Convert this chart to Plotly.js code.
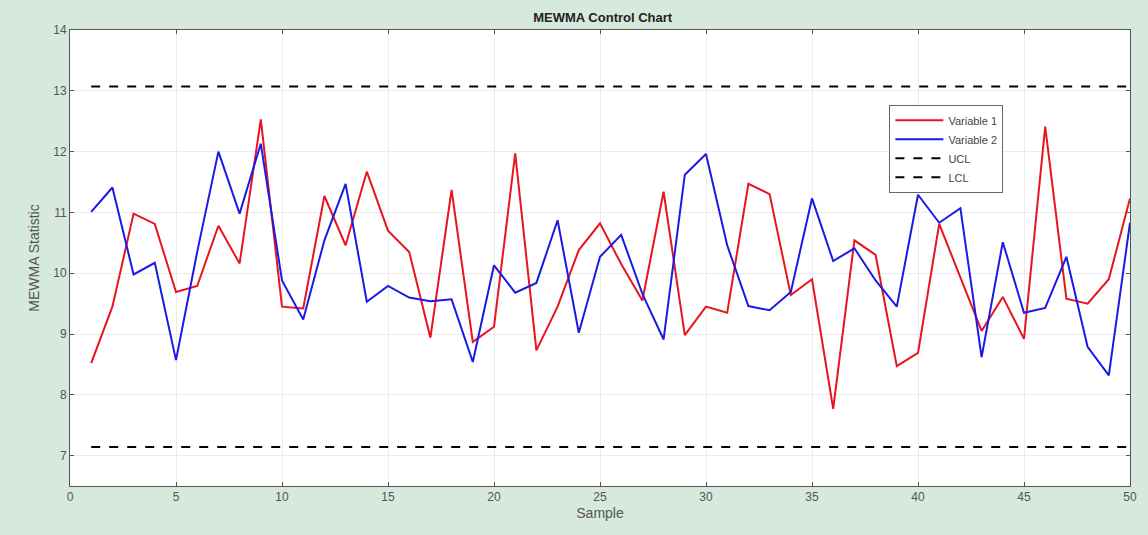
<!DOCTYPE html>
<html>
<head>
<meta charset="utf-8">
<script src="https://cdn.plot.ly/plotly-3.0.1.min.js"></script>
<style>html,body{margin:0;padding:0;background:#d7e8dd;}</style>
</head>
<body>
<div id="chart" style="width:1148px;height:535px;"></div>
<script>
const samples = Array.from({length: 50}, (_, i) => i + 1);
const variable1 = [8.52, 9.45, 10.98, 10.81, 9.69, 9.79, 10.78, 10.16, 12.53, 9.45,
  9.42, 11.27, 10.46, 11.67, 10.70, 10.35, 8.94, 11.37, 8.87, 9.12,
  11.97, 8.73, 9.45, 10.38, 10.82, 10.15, 9.55, 11.34, 8.98, 9.45,
  9.35, 11.47, 11.30, 9.64, 9.90, 7.77, 10.54, 10.30, 8.47, 8.69,
  10.81, 9.94, 9.05, 9.61, 8.92, 12.41, 9.58, 9.50, 9.90, 11.23];
const variable2 = [11.01, 11.41, 9.98, 10.17, 8.57, 10.35, 12.00, 10.98, 12.13, 9.88,
  9.24, 10.54, 11.47, 9.53, 9.79, 9.60, 9.54, 9.57, 8.54, 10.13,
  9.68, 9.84, 10.87, 9.02, 10.27, 10.63, 9.66, 8.91, 11.62, 11.96,
  10.46, 9.46, 9.39, 9.69, 11.23, 10.20, 10.41, 9.88, 9.45, 11.29,
  10.83, 11.07, 8.62, 10.51, 9.35, 9.43, 10.27, 8.79, 8.32, 10.83];
const ucl = 13.07;
const lcl = 7.14;
const xTicks = [0, 5, 10, 15, 20, 25, 30, 35, 40, 45, 50];
const yTicks = [7, 8, 9, 10, 11, 12, 13, 14];

const traces = [
  {x: samples, y: variable1, mode: 'lines', name: 'Variable 1', line: {color: '#e8141e', width: 2}},
  {x: samples, y: variable2, mode: 'lines', name: 'Variable 2', line: {color: '#1a1ae6', width: 2}},
  {x: samples, y: samples.map(() => ucl), mode: 'lines', name: 'UCL', line: {color: '#000', width: 2, dash: 'dash'}},
  {x: samples, y: samples.map(() => lcl), mode: 'lines', name: 'LCL', line: {color: '#000', width: 2, dash: 'dash'}}
];

const axisCommon = {
  showline: true, linecolor: '#555', linewidth: 1, mirror: 'ticks',
  ticks: 'inside', ticklen: 4, tickcolor: '#555',
  showgrid: true, gridcolor: '#ebebeb', gridwidth: 1, zeroline: false,
  tickfont: {family: 'Liberation Sans, Arial, sans-serif', size: 12, color: '#555'}
};

const layout = {
  width: 1148, height: 535,
  paper_bgcolor: '#d7e8dd', plot_bgcolor: '#ffffff',
  margin: {l: 70, r: 18, t: 30, b: 49},
  title: {text: '<b>MEWMA Control Chart</b>', x: 0.525, xanchor: 'center', y: 0.967, yanchor: 'middle',
    font: {family: 'Liberation Sans, Arial, sans-serif', size: 13, color: '#222'}},
  showlegend: true,
  legend: {x: 0.773, y: 0.836, xanchor: 'left', yanchor: 'top', bgcolor: '#ffffff', bordercolor: '#666', borderwidth: 1,
    font: {family: 'Liberation Sans, Arial, sans-serif', size: 11, color: '#444'}, tracegroupgap: 0, itemwidth: 48},
  xaxis: Object.assign({}, axisCommon, {range: [0, 50], tickvals: xTicks,
    title: {text: 'Sample', standoff: 4, font: {family: 'Liberation Sans, Arial, sans-serif', size: 14, color: '#555'}}}),
  yaxis: Object.assign({}, axisCommon, {range: [6.5, 14], tickvals: yTicks,
    title: {text: 'MEWMA Statistic', standoff: 10, font: {family: 'Liberation Sans, Arial, sans-serif', size: 14, color: '#555'}}})
};

Plotly.newPlot('chart', traces, layout, {displayModeBar: false, staticPlot: true});
</script>
</body>
</html>
